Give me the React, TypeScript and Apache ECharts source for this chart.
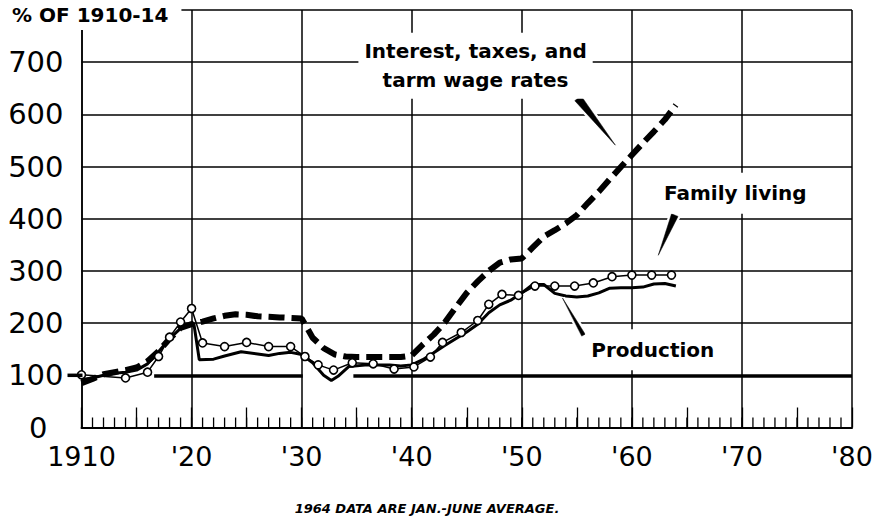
import React, { useEffect, useRef } from 'react';
import * as echarts from 'echarts';

// Axis definitions
const xTickYears = [1910, 1920, 1930, 1940, 1950, 1960, 1970, 1980];
const yGridValues = [200, 300, 400, 500, 600, 700, 800];
const baselineSegments: [number, number][] = [[1916.6, 1930.1], [1934.7, 1980]];
const yearTickRange: [number, number] = [1911, 1979];

// Interest, taxes, and farm wage rates (% of 1910-14)
const interestData: [number, number][] = [
  [1910, 85], [1911, 93], [1912, 102], [1913, 106], [1914, 110], [1915, 115], [1916, 127],
  [1917, 146], [1918, 170], [1919, 191], [1920, 198], [1921, 203], [1922, 209], [1923, 214],
  [1924, 217], [1925, 216], [1926, 213], [1927, 212], [1928, 211], [1929, 210], [1930, 209],
  [1931, 172], [1932, 152], [1933, 140], [1934, 136], [1935, 135], [1936, 135], [1937, 135],
  [1938, 135], [1939, 135], [1940, 138], [1941, 159], [1942, 178], [1943, 201], [1944, 230],
  [1945, 258], [1946, 280], [1947, 300], [1948, 316], [1949, 322], [1950, 324], [1951, 345],
  [1952, 366], [1953, 378], [1954, 391], [1955, 407], [1956, 430], [1957, 452], [1958, 476],
  [1959, 499], [1960, 522], [1961, 545], [1962, 567], [1963, 590], [1964, 618],
];

// Family living
const familyData: [number, number][] = [
  [1910, 101], [1914, 95], [1916, 106], [1917, 136], [1918, 173], [1919, 202], [1920, 228],
  [1921, 162], [1923, 155], [1925, 163], [1927, 155], [1929, 155], [1930.3, 136], [1931.5, 120],
  [1932.9, 110], [1934.6, 124], [1936.5, 122], [1938.4, 112], [1940.2, 116], [1941.7, 135],
  [1942.8, 163], [1944.5, 182], [1946, 205], [1947, 236], [1948.2, 255], [1949.7, 253],
  [1951.2, 271], [1953, 271], [1954.8, 271], [1956.5, 277], [1958.2, 289], [1960, 292],
  [1961.8, 292], [1963.6, 292],
];

// Production
const productionData: [number, number][] = [
  [1910, 92], [1911, 95], [1912, 100], [1913, 104], [1914, 106], [1915, 110], [1916, 122],
  [1917, 145], [1918, 170], [1919, 190], [1920.2, 200], [1920.7, 130], [1922, 131], [1923, 137],
  [1924.5, 145], [1926, 141], [1927, 138], [1928, 142], [1929, 144], [1930, 140], [1931, 124],
  [1932, 100], [1932.7, 90], [1933.3, 98], [1934.3, 117], [1936, 120], [1938, 120], [1939, 118],
  [1940, 120], [1941, 130], [1942, 143], [1943, 157], [1944, 170], [1945, 183], [1946, 198],
  [1947, 220], [1948, 235], [1949, 244], [1950, 258], [1951, 274], [1952, 274], [1953, 257],
  [1954, 252], [1955, 250], [1956, 252], [1957, 258], [1958, 267], [1959, 268], [1960, 268],
  [1961, 269], [1962, 275], [1963, 276], [1964, 271],
];

const FONT = '"DejaVu Sans", sans-serif';

export default function App() {
  const ref = useRef<HTMLDivElement>(null);
  useEffect(() => {
    document.body.style.margin = '0';
    const el = ref.current!;
    const chart = echarts.init(el, null, { renderer: 'svg' });
    const black = '#000';
    const yearTicks: number[][] = [];
    for (let y = yearTickRange[0]; y <= yearTickRange[1]; y++) yearTicks.push([y, 0]);
    const option: any = {
      animation: false,
      backgroundColor: '#fff',
      grid: { left: 81.5, right: 24, top: 10, bottom: 92.5, containLabel: false },
      xAxis: [
        {
          type: 'value', min: 1910, max: 1980, interval: 10,
          axisLine: { show: true, lineStyle: { color: black, width: 2 } },
          axisTick: { show: false },
          splitLine: { show: true, lineStyle: { color: black, width: 1.5 } },
          axisLabel: {
            color: black, fontFamily: FONT, fontSize: 27, margin: 15,
            formatter: (v: number) => (v === 1910 ? '1910' : "'" + String(v).slice(2)),
          },
        },
        {
          type: 'value', min: 1910, max: 1980, interval: 5, position: 'bottom',
          axisLine: { show: false },
          axisTick: { show: true, inside: true, length: 20, lineStyle: { color: black, width: 1.3 } },
          splitLine: { show: false },
          axisLabel: { show: false },
        },
      ],
      yAxis: {
        type: 'value', min: 0, max: 800, interval: 100,
        axisLine: { show: true, lineStyle: { color: black, width: 1.5 } },
        axisTick: { show: false },
        splitLine: { show: false },
        axisLabel: {
          color: black, fontFamily: FONT, fontSize: 29, margin: 18,
          formatter: (v: number) => (v === 800 ? '' : v === 0 ? '{z|0}' : String(v)),
          rich: { z: { color: black, fontFamily: FONT, fontSize: 29, padding: [0, 16, 0, 0] } },
        },
      },
      series: [
        {
          type: 'line', data: [[1910, 0]], showSymbol: false, silent: true, z: 1,
          lineStyle: { opacity: 0 },
          markLine: {
            symbol: ['none', 'none'], silent: true, label: { show: false },
            data: [
              ...yGridValues.map((v) => ({ yAxis: v, lineStyle: { color: black, width: 1.5, type: 'solid' } })),
              ...baselineSegments.map(([a, b]) => [
                { coord: [a, 100], lineStyle: { color: black, width: 3.5, type: 'solid' } },
                { coord: [b, 100], lineStyle: { color: black, width: 3.5, type: 'solid' } },
              ]),
            ],
          },
        },
        {
          name: 'Interest, taxes, and farm wage rates', type: 'line', data: interestData, z: 3,
          showSymbol: false, clip: false,
          lineStyle: { color: black, width: 6, type: [16, 7], cap: 'butt' },
        },
        {
          name: 'Production', type: 'line', data: productionData, z: 4,
          showSymbol: false, clip: false,
          lineStyle: { color: black, width: 3 },
        },
        {
          name: 'Family living', type: 'line', data: familyData, z: 5, clip: false,
          symbol: 'circle', symbolSize: 8, showSymbol: true,
          lineStyle: { color: black, width: 1.5 },
          itemStyle: { color: '#fff', borderColor: black, borderWidth: 1.6 },
        },
        {
          type: 'custom', data: yearTicks, silent: true, z: 2, clip: false,
          renderItem: (_p: any, api: any) => {
            const pt = api.coord([api.value(0), 0]);
            return {
              type: 'line',
              shape: { x1: pt[0], y1: pt[1], x2: pt[0], y2: pt[1] - 10 },
              style: { stroke: black, lineWidth: 1.3 },
            };
          },
        },
      ],
    };
    chart.setOption(option);

    const px = (p: [number, number]) => chart.convertToPixel({ seriesIndex: 1 }, p) as number[];
    const wedge = (wide: [number, number], tip: [number, number], w: number) => {
      const a = px(wide), b = px(tip);
      const dx = b[0] - a[0], dy = b[1] - a[1];
      const len = Math.hypot(dx, dy);
      const nx = (-dy / len) * w / 2, ny = (dx / len) * w / 2;
      const pts = [[a[0] + nx, a[1] + ny], [a[0] - nx, a[1] - ny], [b[0], b[1]]];
      return [
        { type: 'polygon', z: 60, shape: { points: pts }, style: { fill: '#fff', stroke: '#fff', lineWidth: 5 } },
        { type: 'polygon', z: 61, shape: { points: pts }, style: { fill: black, stroke: black, lineWidth: 0.5 } },
      ];
    };
    const label = (text: string, at: [number, number], pad: number[]) => {
      const p = px(at);
      return {
        type: 'text', z: 70, x: p[0], y: p[1],
        style: {
          text, font: `bold 20px ${FONT}`, fill: black, lineHeight: 29,
          align: 'center', verticalAlign: 'middle', textAlign: 'center', textVerticalAlign: 'middle',
          backgroundColor: '#fff', padding: pad,
        },
      };
    };
    const stubA = px([1910, 100]);
    chart.setOption({
      graphic: [
        { type: 'line', z: 40, shape: { x1: stubA[0] - 14, y1: stubA[1], x2: stubA[0] + 1, y2: stubA[1] }, style: { stroke: black, lineWidth: 3.5 } },
        ...wedge([1955.1, 631], [1958.5, 541], 8),
        ...wedge([1963.9, 407], [1962.4, 330], 7),
        ...wedge([1955.6, 177], [1953.7, 248], 4),
        label('Interest, taxes, and\ntarm wage rates', [1945.8, 693], [4, 6]),
        label('Family living', [1969.4, 449], [6, 6]),
        label('Production', [1961.9, 149], [6, 6]),
        {
          type: 'text', z: 80, x: 6, y: 15,
          style: {
            text: '% OF 1910-14', font: `bold 20px ${FONT}`, fill: black,
            align: 'left', verticalAlign: 'middle', textAlign: 'left', textVerticalAlign: 'middle',
            backgroundColor: '#fff', padding: [6, 13, 4, 6],
          },
        },
        {
          type: 'text', z: 80, x: 427, y: 508,
          style: {
            text: '1964 DATA ARE JAN.-JUNE AVERAGE.', font: `italic bold 13px ${FONT}`, fill: black,
            align: 'center', verticalAlign: 'middle', textAlign: 'center', textVerticalAlign: 'middle',
          },
        },
      ],
    });
    return () => chart.dispose();
  }, []);
  return <div ref={ref} style={{ width: 876, height: 520 }} />;
}
